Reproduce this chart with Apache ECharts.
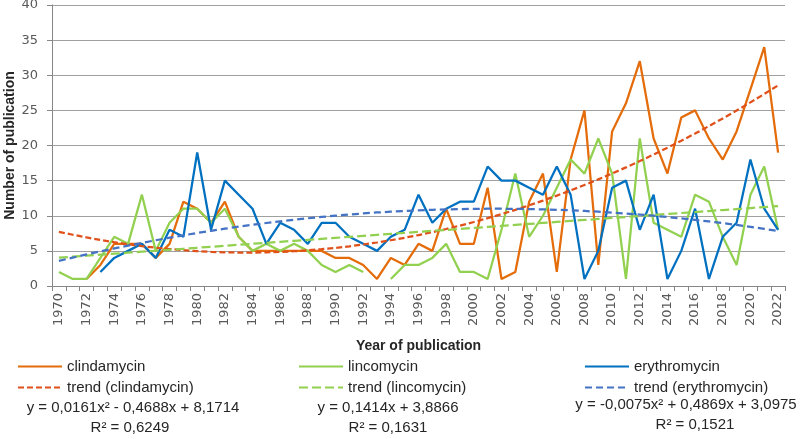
<!DOCTYPE html>
<html><head><meta charset="utf-8">
<script src="https://cdn.jsdelivr.net/npm/echarts@6/dist/echarts.min.js"></script>
<style>html,body{margin:0;padding:0;background:#fff}#c{width:800px;height:439px}</style>
</head><body><div id="c"></div>
<script>
const years = ['1970','1971','1972','1973','1974','1975','1976','1977','1978','1979',
  '1980','1981','1982','1983','1984','1985','1986','1987','1988','1989',
  '1990','1991','1992','1993','1994','1995','1996','1997','1998','1999',
  '2000','2001','2002','2003','2004','2005','2006','2007','2008','2009',
  '2010','2011','2012','2013','2014','2015','2016','2017','2018','2019',
  '2020','2021','2022'];
const clindamycin = [null,null,1,3,6,6,6,4,6,12, 11,9,12,7,5,5,5,5,5,5, 4,4,3,1,4,3,6,5,11,6,
  6,14,1,2,12,16,2,18,25,3, 22,26,32,21,16,24,25,21,18,22, 28,34,19];
const lincomycin = [2,1,1,4,7,6,13,5,9,11, 11,9,11,7,5,6,5,6,5,3, 2,3,2,null,1,3,3,4,6,2,
  2,1,8,16,7,10,14,18,16,21, 16,1,21,9,8,7,13,12,7,3, 13,17,8];
const erythromycin = [null,null,null,2,4,5,6,4,8,7, 19,8,15,13,11,6,9,8,6,9, 9,7,6,5,7,8,13,9,11,12,
  12,17,15,15,14,13,17,13,1,5, 14,15,8,13,1,5,11,1,7,9, 18,11,8];
// trendline coefficients as printed on the chart: a*x^2 + b*x + c, x = category index starting at 1
const coefClindamycin = [0.0161, -0.4688, 8.1714];
const coefLincomycin = [0, 0.1414, 3.8866];
const coefErythromycin = [-0.0075, 0.4869, 3.0975];
const eqTexts = ['y = 0,0161x² - 0,4688x + 8,1714', 'y = 0,1414x + 3,8866', 'y = -0,0075x² + 0,4869x + 3,0975'];
const r2Texts = ['R² = 0,6249', 'R² = 0,1631', 'R² = 0,1521'];
const yTicks = {min: 0, max: 40, interval: 5};

function trend(coef) {
  return years.map((_, i) => { const x = i + 1; return +(coef[0]*x*x + coef[1]*x + coef[2]).toFixed(4); });
}
const FONT = '"Liberation Sans", Arial, sans-serif';
const AXF = '"DejaVu Sans", Verdana, sans-serif';
const TXT = '#262626';
function line(name, data, color, dash, width) {
  return {name, type: 'line', data, symbol: 'none', connectNulls: false,
    lineStyle: {color, width: width || 2.25, type: dash || 'solid', cap: 'butt'},
    itemStyle: {color}, emphasis: {disabled: true}, animation: false};
}
const chart = echarts.init(document.getElementById('c'), null, {renderer: 'canvas'});
const legendCommon = {orient: 'vertical', top: 359, padding: 0, itemWidth: 44, itemHeight: 14, itemGap: 6,
  itemStyle: {opacity: 0, borderWidth: 0},
  textStyle: {fontFamily: FONT, fontSize: 15, color: TXT}, selectedMode: false};
function eq(text, x, y) {
  return {type: 'text', x, y, style: {text, align: 'center', verticalAlign: 'middle', fontFamily: FONT, fontSize: 15, fill: TXT}};
}
chart.setOption({
  animation: false,
  backgroundColor: '#fff',
  grid: {left: 52, right: 15, top: 5, bottom: 153, containLabel: false, outerBoundsMode: 'none'},
  xAxis: {type: 'category', data: years, boundaryGap: true,
    name: 'Year of publication', nameLocation: 'middle', nameGap: 53, nameMoveOverlap: false,
    nameTextStyle: {fontFamily: FONT, fontSize: 14, fontWeight: 'bold', color: TXT},
    axisLine: {show: true, lineStyle: {color: '#868686', width: 1}},
    axisTick: {show: true, interval: 0, length: 5, lineStyle: {color: '#868686'}},
    axisLabel: {interval: 1, rotate: 90, margin: 7, fontFamily: AXF, fontSize: 13, color: '#595959'},
    splitLine: {show: false}},
  yAxis: {type: 'value', min: yTicks.min, max: yTicks.max, interval: yTicks.interval,
    name: 'Number of publication', nameLocation: 'middle', nameGap: 35, nameMoveOverlap: false,
    nameTextStyle: {fontFamily: FONT, fontSize: 14, fontWeight: 'bold', color: TXT},
    axisLine: {show: true, lineStyle: {color: '#868686', width: 1}},
    axisTick: {show: true, length: 5, lineStyle: {color: '#868686'}},
    axisLabel: {margin: 14, fontFamily: AXF, fontSize: 13, color: '#595959'},
    splitLine: {show: true, lineStyle: {color: '#a0a0a0', width: 1.2}}},
  legend: [
    Object.assign({left: 17, data: ['clindamycin', 'trend (clindamycin)']}, legendCommon),
    Object.assign({left: 298, data: ['lincomycin', 'trend (lincomycin)']}, legendCommon),
    Object.assign({left: 584, data: ['erythromycin', 'trend (erythromycin)']}, legendCommon)
  ],
  series: [
    line('clindamycin', clindamycin, '#E46C0A'),
    line('lincomycin', lincomycin, '#92D050'),
    line('erythromycin', erythromycin, '#0070C0'),
    line('trend (clindamycin)', trend(coefClindamycin), '#E0501A', [6, 3]),
    line('trend (lincomycin)', trend(coefLincomycin), '#92D050', [9, 4]),
    line('trend (erythromycin)', trend(coefErythromycin), '#4472C4', [7, 4])
  ],
  graphic: [
    eq(eqTexts[0], 133, 408), eq(r2Texts[0], 130, 428),
    eq(eqTexts[1], 388, 408), eq(r2Texts[1], 388, 428),
    eq(eqTexts[2], 686, 405), eq(r2Texts[2], 695, 425)
  ]
});
</script></body></html>
